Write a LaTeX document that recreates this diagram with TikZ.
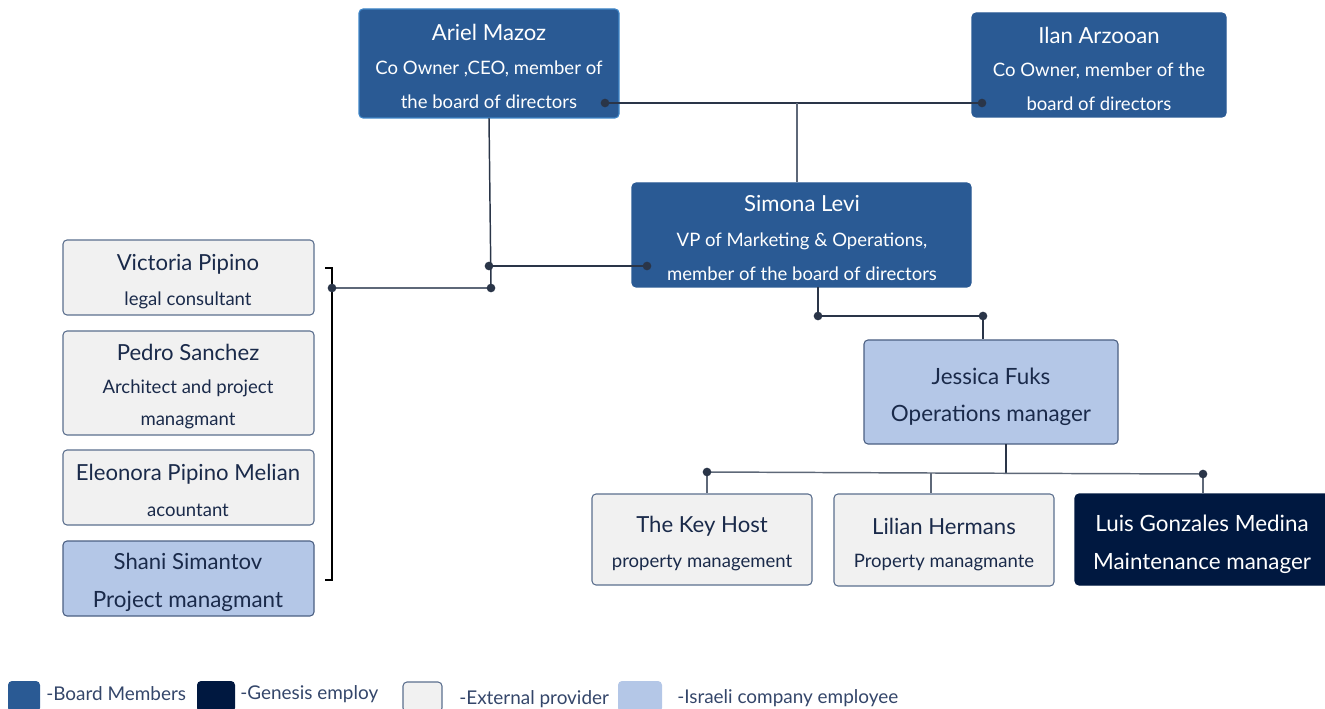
\documentclass[tikz,border=0pt]{standalone}
\usepackage{fontspec}
\setmainfont{Lato}
\usetikzlibrary{fit}
\definecolor{board}{HTML}{2A5A94}
\definecolor{boardedge}{HTML}{3F86C8}
\definecolor{navy}{HTML}{001840}
\definecolor{ext}{HTML}{F1F1F1}
\definecolor{extedge}{HTML}{5B6F8E}
\definecolor{isr}{HTML}{B4C7E7}
\definecolor{isredge}{HTML}{4B5F82}
\definecolor{ink}{HTML}{1A2A4A}
\definecolor{wire}{HTML}{2A3548}
\definecolor{wiregray}{HTML}{5E6878}
\definecolor{legtext}{HTML}{34466A}
\tikzset{
  boxbase/.style={inner sep=0pt, rounded corners=3pt, line width=0.8pt},
  boardbox/.style={boxbase, fill=board, draw=board},
  navybox/.style={boxbase, fill=navy, draw=navy},
  extbox/.style={boxbase, fill=ext, draw=extedge},
  isrbox/.style={boxbase, fill=isr, draw=isredge},
  ttl/.style={inner sep=0pt, font=\fontsize{16.6}{19}\selectfont},
  sub/.style={inner sep=0pt, font=\fontsize{13.9}{16}\selectfont},
  big/.style={inner sep=0pt, font=\fontsize{16.8}{19}\selectfont},
  wht/.style={text=white},
  dk/.style={text=ink},
  wireline/.style={draw=wire, line width=1.1pt},
  wireg/.style={draw=wiregray, line width=1.1pt},
  dot/.style={fill=wire, circle, inner sep=0pt, minimum size=6.5pt},
  legend/.style={inner sep=0pt, anchor=west, text=legtext, font=\fontsize{14.2}{16}\selectfont},
}
\begin{document}
\begin{tikzpicture}[x=0.75pt,y=-0.75pt]
\useasboundingbox (0,0) rectangle (1325,709);
% boxes
\node[boardbox, draw=boardedge, fit={(359,9)(619,118)}] (ariel) {};
\node[boardbox, fit={(972,13)(1226,117)}] (ilan) {};
\node[boardbox, fit={(632,183)(971,287)}] (simona) {};
\node[extbox, fit={(63,240)(314,315)}] (victoria) {};
\node[extbox, fit={(63,331)(314,435)}] (pedro) {};
\node[extbox, fit={(63,450)(314,525)}] (eleonora) {};
\node[isrbox, fit={(63,541)(314,616)}] (shani) {};
\node[isrbox, fit={(864,340)(1118,444)}] (jessica) {};
\node[extbox, fit={(592,494)(812,585)}] (keyhost) {};
\node[extbox, fit={(834,494)(1054,586)}] (lilian) {};
\node[navybox, fit={(1075,494)(1330,585)}] (luis) {};
% texts
\node[ttl,wht] (arielA) at (489,32) {Ariel Mazoz};
\node[sub,wht] (arielB) at (489,69) {Co Owner ,CEO, member of};
\node[sub,wht] (arielC) at (489,102) {the board of directors};
\node[ttl,wht] (ilanA) at (1099,35) {Ilan Arzooan};
\node[sub,wht] (ilanB) at (1099,71) {Co Owner, member of the};
\node[sub,wht] (ilanC) at (1099,104) {board of directors};
\node[ttl,wht] (simA) at (802,204) {Simona Levi};
\node[sub,wht] (simB) at (802,241) {VP of Marketing \& Operations,};
\node[sub,wht] (simC) at (802,274) {member of the board of directors};
\node[ttl,dk] (vicA) at (188,264) {Victoria Pipino};
\node[sub,dk] (vicB) at (188,300) {legal consultant};
\node[ttl,dk] (pedA) at (188,352) {Pedro Sanchez};
\node[sub,dk] (pedB) at (188,388) {Architect and project};
\node[sub,dk] (pedC) at (188,421) {managmant};
\node[ttl,dk] (eleA) at (188,474) {Eleonora Pipino Melian};
\node[sub,dk] (eleB) at (188,510) {acountant};
\node[ttl,dk] (shaA) at (188,561) {Shani Simantov};
\node[big,dk] (shaB) at (188,601) {Project managmant};
\node[big,dk] (jesA) at (991,376) {Jessica Fuks};
\node[big,dk] (jesB) at (991,415) {Operations manager};
\node[ttl,dk] (keyA) at (702,526) {The Key Host};
\node[sub,dk] (keyB) at (702,563) {property management};
\node[ttl,dk] (lilA) at (944,526) {Lilian Hermans};
\node[sub,dk] (lilB) at (944,563) {Property managmante};
\node[big,wht] (luiA) at (1202,523) {Luis Gonzales Medina};
\node[big,wht] (luiB) at (1202,563) {Maintenance manager};
% connector points
\coordinate (pA) at (605,103);
\coordinate (pI) at (982,103);
\coordinate (pMid) at (797,103);
\coordinate (pAr) at (489,118);
\coordinate (pJ1) at (489,266);
\coordinate (pS) at (647,266);
\coordinate (pJ2) at (491,288);
\coordinate (pB) at (332,288);
\coordinate (bT) at (332,268);
\coordinate (bTl) at (325,268);
\coordinate (bBo) at (332,580);
\coordinate (bBl) at (325,580);
\coordinate (sD) at (818,287);
\coordinate (sD2) at (818,316);
\coordinate (jU) at (983,316);
\coordinate (jD) at (1006,444);
\coordinate (jD2) at (1006,473);
\coordinate (hL) at (707,472);
\coordinate (hM) at (931,473);
\coordinate (hR) at (1203,474);
% connectors
\draw[wireline] (pA) -- (pI);
\draw[wireg] (pMid) -- (pMid |- simona.north);
\draw[wireline] (pAr) -- (pJ2);
\draw[wireline] (pJ1) -- (pS);
\draw[wireg] (pJ2) -- (pB);
\draw[line width=1pt, draw=black] (bTl) -- (bT) -- (bBo) -- (bBl);
\draw[wireline] (sD) -- (sD2) -- (jU) -- (jU |- jessica.north);
\draw[wireline] (jD) -- (jD2);
\draw[wireg] (hL) -- (hM) -- (hR);
\draw[wireg] (hL) -- (hL |- keyhost.north);
\draw[wireg] (hM) -- (hM |- lilian.north);
\draw[wireg] (hR) -- (hR |- luis.north);
% dots
\foreach \p in {pA,pI,pJ1,pS,pJ2,pB,sD2,jU,hL,hR} \node[dot] at (\p) {};
% legend
\node[boxbase, fill=board, fit={(8,681)(40,712)}] (lgB) {};
\node[boxbase, fill=navy, fit={(197,681)(235,712)}] (lgG) {};
\node[extbox, fit={(403,682)(442,712)}] (lgE) {};
\node[boxbase, fill=isr, fit={(618,681)(662,712)}] (lgI) {};
\node[legend] (lgBt) at (46,694) {-Board Members};
\node[legend] (lgGt) at (240,694) {-Genesis employ};
\node[legend] (lgEt) at (459,699) {-External provider};
\node[legend] (lgIt) at (677,698) {-Israeli company employee};
\end{tikzpicture}
\end{document}
